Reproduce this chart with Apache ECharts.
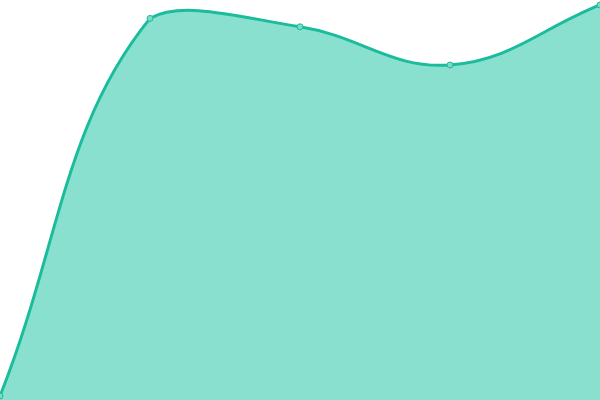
<!DOCTYPE html>
<html><head><meta charset="utf-8">
<script src="https://cdn.jsdelivr.net/npm/echarts@6/dist/echarts.min.js"></script>
<style>html,body{margin:0;padding:0;background:#fff}#c{width:600px;height:400px}</style>
</head><body><div id="c"></div>
<script>
var categories = ['A', 'B', 'C', 'D', 'E'];
var values = [1, 95.4, 93.3, 83.75, 98.75];
var tension = 0.4;
var lineColor = '#1abc9c';
var fillColor = '#8ae0cf';
var pointFill = '#7dd9c6';

function renderCurve(params, api) {
  if (params.dataIndex !== 0) return null;
  var cs = params.coordSys;
  var pts = values.map(function (v, i) { return api.coord([i, v]); });
  var n = pts.length;
  var cps = [];
  function clamp(v, a, b) { return Math.max(a, Math.min(b, v)); }
  for (var i = 0; i < n; i++) {
    var cur = pts[i];
    var prev = pts[i - 1] || cur;
    var next = pts[i + 1] || cur;
    var d01 = Math.hypot(cur[0] - prev[0], cur[1] - prev[1]);
    var d12 = Math.hypot(next[0] - cur[0], next[1] - cur[1]);
    var s01 = d01 / (d01 + d12); var s12 = d12 / (d01 + d12);
    s01 = isNaN(s01) ? 0 : s01; s12 = isNaN(s12) ? 0 : s12;
    var fa = tension * s01, fb = tension * s12;
    var c = {
      p1: [cur[0] - fa * (next[0] - prev[0]), cur[1] - fa * (next[1] - prev[1])],
      p2: [cur[0] + fb * (next[0] - prev[0]), cur[1] + fb * (next[1] - prev[1])]
    };
    [c.p1, c.p2].forEach(function (p) {
      p[0] = clamp(p[0], cs.x, cs.x + cs.width);
      p[1] = clamp(p[1], cs.y, cs.y + cs.height);
    });
    cps.push(c);
  }
  var d = 'M' + pts[0][0] + ' ' + pts[0][1];
  for (var j = 0; j < n - 1; j++) {
    d += ' C' + cps[j].p2[0] + ' ' + cps[j].p2[1] + ' ' + cps[j + 1].p1[0] + ' ' + cps[j + 1].p1[1] + ' ' + pts[j + 1][0] + ' ' + pts[j + 1][1];
  }
  var bottom = cs.y + cs.height;
  var area = d + ' L' + pts[n - 1][0] + ' ' + bottom + ' L' + pts[0][0] + ' ' + bottom + ' Z';
  return {
    type: 'group',
    children: [
      { type: 'path', shape: { pathData: area }, style: { fill: fillColor, stroke: 'none' } },
      { type: 'path', shape: { pathData: d }, style: { fill: 'none', stroke: lineColor, lineWidth: 3 } }
    ]
  };
}

var chart = echarts.init(document.getElementById('c'));
chart.setOption({
  animation: false,
  grid: { left: 0, right: 0, top: 0, bottom: 0 },
  xAxis: { type: 'category', data: categories, boundaryGap: false, show: false },
  yAxis: { type: 'value', min: 0, max: 100, show: false },
  series: [{
    type: 'custom',
    renderItem: renderCurve,
    data: values.map(function (v, i) { return [i, v]; }),
    z: 2
  }, {
    type: 'scatter',
    data: values,
    symbol: 'circle',
    symbolSize: 6,
    itemStyle: { color: pointFill, borderColor: lineColor, borderWidth: 1, opacity: 1 },
    z: 3
  }]
});
</script></body></html>
